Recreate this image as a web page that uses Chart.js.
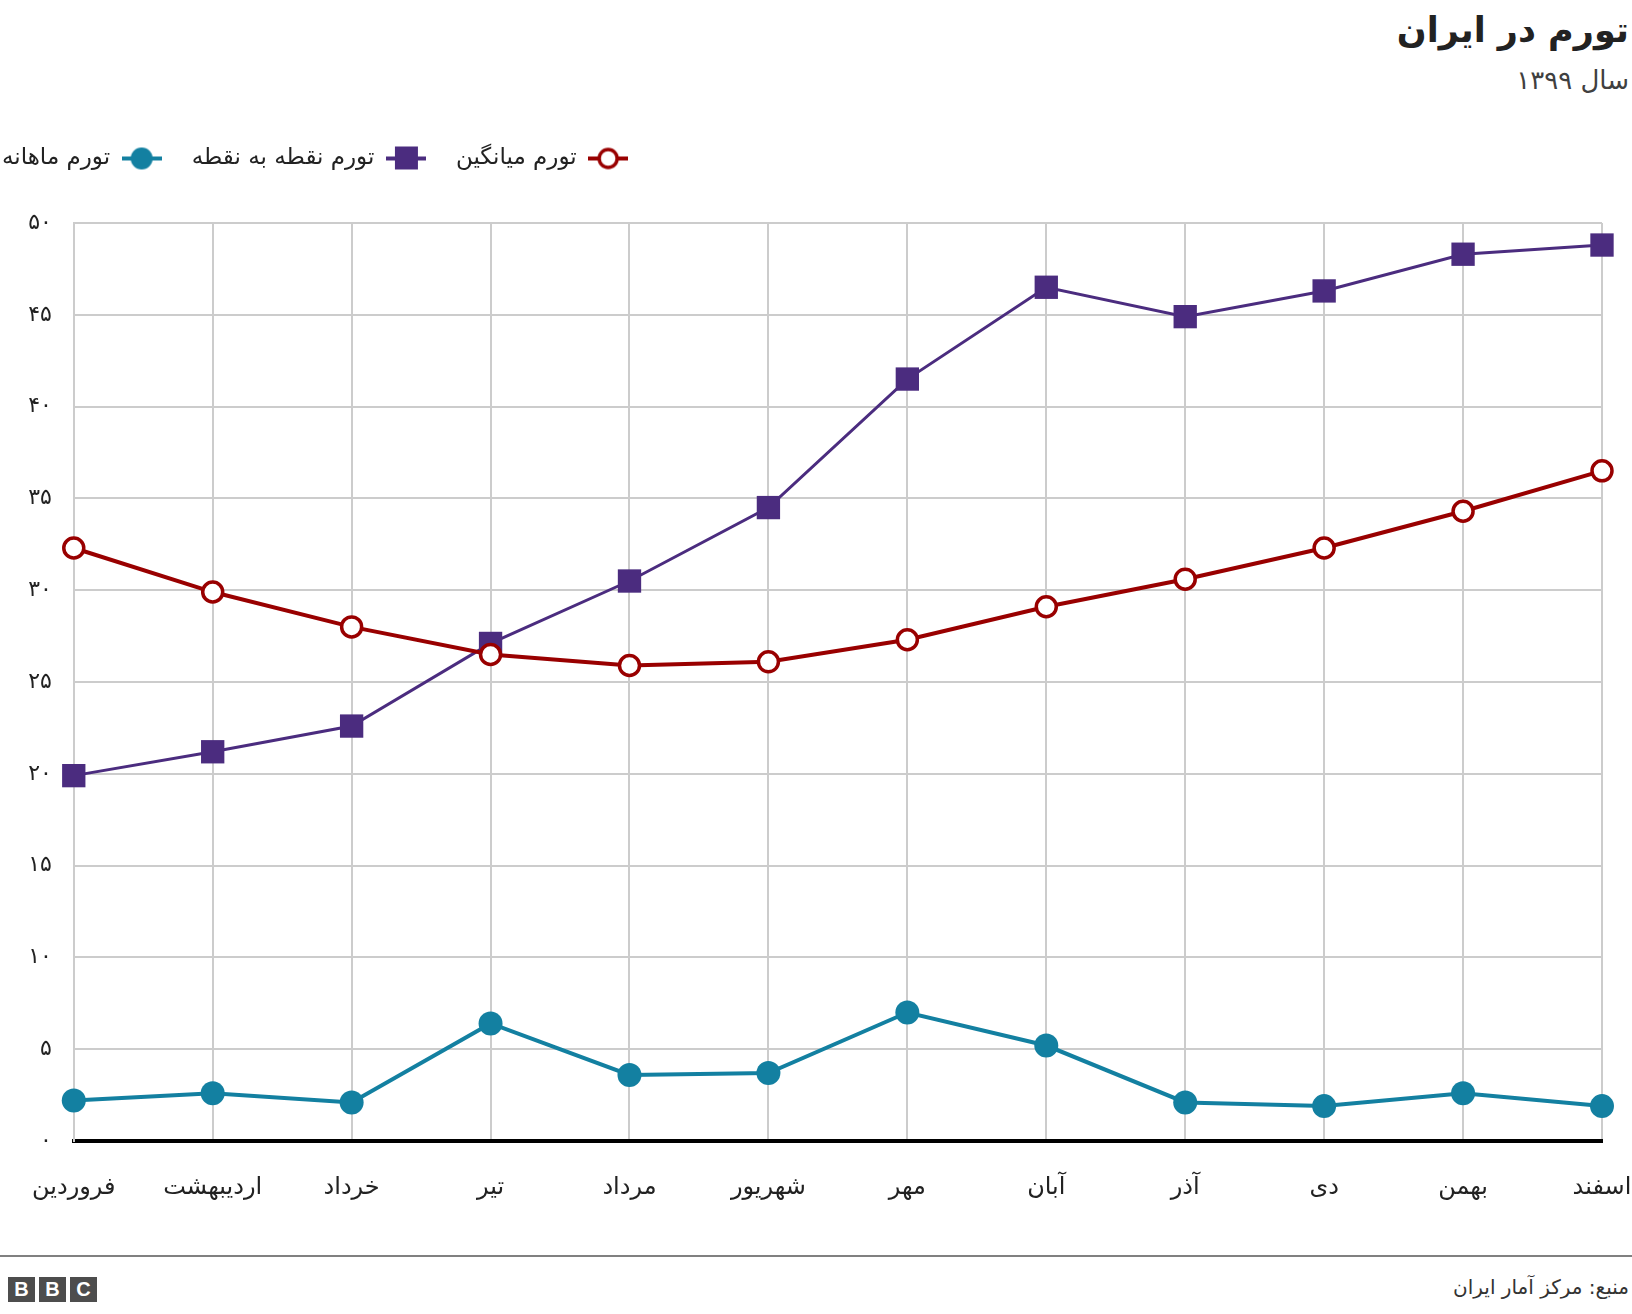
<!DOCTYPE html>
<html lang="fa">
<head>
<meta charset="UTF-8">
<title>تورم در ایران</title>
<script src="https://cdn.jsdelivr.net/npm/chart.js"></script>
<style>
    body {
        margin: 0;
        width: 1632px;
        height: 1314px;
        position: relative;
        overflow: hidden;
        background: #fff;
        font-family: 'DejaVu Sans', sans-serif;
    }
    .title {
        position: absolute;
        right: 3px;
        top: 10px;
        font-size: 35px;
        font-weight: bold;
        color: #222;
        direction: rtl;
    }
    .subtitle {
        position: absolute;
        right: 3px;
        top: 65px;
        font-size: 26px;
        color: #404040;
        direction: rtl;
    }
    #chartBox {
        position: absolute;
        left: 0;
        top: 117px;
    }
    .rule {
        position: absolute;
        left: 0;
        right: 0;
        top: 1255px;
        height: 2px;
        background: #808080;
    }
    .source {
        position: absolute;
        right: 3px;
        top: 1275px;
        font-size: 20px;
        color: #333;
        direction: rtl;
    }
    .bbc {
        position: absolute;
        left: 8px;
        top: 1277px;
        display: flex;
        gap: 4px;
    }
    .bbc span {
        width: 27px;
        height: 25px;
        background: #4d4d4d;
        color: #fff;
        font: bold 20px 'Liberation Sans', sans-serif;
        display: flex;
        align-items: center;
        justify-content: center;
    }
</style>
</head>
<body>
    <div class="title">تورم در ایران</div>
    <div class="subtitle">سال ۱۳۹۹</div>
    <canvas id="chartBox" width="1632" height="1104"></canvas>
    <div class="rule"></div>
    <div class="bbc"><span>B</span><span>B</span><span>C</span></div>
    <div class="source">منبع: مرکز آمار ایران</div>

<script>
    // داده‌ها
    const months = ['فروردین', 'اردیبهشت', 'خرداد', 'تیر', 'مرداد', 'شهریور', 'مهر', 'آبان', 'آذر', 'دی', 'بهمن', 'اسفند'];
    const averageInflation = [32.3, 29.9, 28.0, 26.5, 25.9, 26.1, 27.3, 29.1, 30.6, 32.3, 34.3, 36.5];
    const pointInflation = [19.9, 21.2, 22.6, 27.1, 30.5, 34.5, 41.5, 46.5, 44.9, 46.3, 48.3, 48.8];
    const monthlyInflation = [2.2, 2.6, 2.1, 6.4, 3.6, 3.7, 7.0, 5.2, 2.1, 1.9, 2.6, 1.9];
    const yTickLabels = ['۰', '۵', '۱۰', '۱۵', '۲۰', '۲۵', '۳۰', '۳۵', '۴۰', '۴۵', '۵۰'];

    const RED = '#990000';
    const PURPLE = '#4b2c7f';
    const TEAL = '#1380a1';
    const FONT = "'DejaVu Sans', sans-serif";

    // legend icons: short line with the marker on it
    function makeIcon(color, kind) {
        const c = document.createElement('canvas');
        c.width = 40;
        c.height = 26;
        const g = c.getContext('2d');
        g.strokeStyle = color;
        g.lineWidth = 4;
        g.beginPath();
        g.moveTo(0, 13);
        g.lineTo(40, 13);
        g.stroke();
        if (kind === 'square') {
            g.fillStyle = color;
            g.fillRect(9, 1, 23, 23);
        } else if (kind === 'open') {
            g.fillStyle = '#fff';
            g.lineWidth = 3.5;
            g.beginPath();
            g.arc(20, 13, 9, 0, Math.PI * 2);
            g.fill();
            g.stroke();
        } else {
            g.fillStyle = color;
            g.beginPath();
            g.arc(20, 13, 11, 0, Math.PI * 2);
            g.fill();
        }
        return c;
    }
    const legendIcons = [makeIcon(RED, 'open'), makeIcon(PURPLE, 'square'), makeIcon(TEAL, 'dot')];

    const layoutFix = {
        id: 'layoutFix',
        beforeUpdate(chart) {
            const lg = chart.legend;
            if (lg && !lg._patched) {
                const fit = lg.fit;
                lg.fit = function () {
                    fit.call(this);
                    this.height += 43;
                };
                lg._patched = true;
            }
        },
        afterLayout(chart) {
            // pull the legend row to the left edge
            chart.legend.left -= 28;
            chart.legend.right -= 28;
        }
    };

    const ctx = document.getElementById('chartBox').getContext('2d');
    new Chart(ctx, {
        type: 'line',
        data: {
            labels: months,
            datasets: [
                {
                    label: 'تورم میانگین',
                    data: averageInflation,
                    borderColor: RED,
                    backgroundColor: '#fff',
                    borderWidth: 4,
                    pointRadius: 10,
                    pointBorderWidth: 3.5,
                    pointStyle: 'circle',
                    clip: false
                },
                {
                    label: 'تورم نقطه به نقطه',
                    data: pointInflation,
                    borderColor: PURPLE,
                    backgroundColor: PURPLE,
                    borderWidth: 3,
                    pointRadius: 16.5,
                    pointBorderWidth: 0,
                    pointStyle: 'rect',
                    clip: false
                },
                {
                    label: 'تورم ماهانه',
                    data: monthlyInflation,
                    borderColor: TEAL,
                    backgroundColor: TEAL,
                    borderWidth: 4,
                    pointRadius: 12,
                    pointBorderWidth: 0,
                    pointStyle: 'circle',
                    clip: false
                }
            ]
        },
        options: {
            responsive: false,
            animation: false,
            layout: { padding: 0 },
            plugins: {
                tooltip: { enabled: false },
                legend: {
                    position: 'top',
                    align: 'end',
                    rtl: true,
                    textDirection: 'rtl',
                    labels: {
                        usePointStyle: true,
                        pointStyleWidth: 40,
                        boxHeight: 23,
                        padding: 30,
                        color: '#222',
                        font: { family: FONT, size: 23 },
                        generateLabels: (chart) => chart.data.datasets.map((ds, i) => ({
                            text: ds.label,
                            fillStyle: ds.backgroundColor,
                            strokeStyle: ds.borderColor,
                            lineWidth: 0,
                            pointStyle: legendIcons[i],
                            fontColor: '#222',
                            hidden: false,
                            datasetIndex: i
                        }))
                    }
                }
            },
            scales: {
                x: {
                    offset: false,
                    grid: { color: '#cccccc', lineWidth: 2, drawTicks: false },
                    border: { display: true, color: '#000', width: 4 },
                    ticks: {
                        color: '#222',
                        font: { family: FONT, size: 24 },
                        padding: 32,
                        maxRotation: 0,
                        autoSkip: false
                    },
                    afterFit: (scale) => {
                        scale.height = 80;
                        scale.paddingRight = 30;
                    }
                },
                y: {
                    min: 0,
                    max: 50,
                    grid: { color: '#cccccc', lineWidth: 2, drawTicks: false },
                    border: { display: true, color: '#cccccc', width: 2 },
                    ticks: {
                        stepSize: 5,
                        color: '#222',
                        font: { family: FONT, size: 22 },
                        padding: 22,
                        callback: (v, i) => yTickLabels[i]
                    },
                    afterFit: (scale) => { scale.width = 73; }
                }
            }
        },
        plugins: [layoutFix]
    });
</script>
</body>
</html>
